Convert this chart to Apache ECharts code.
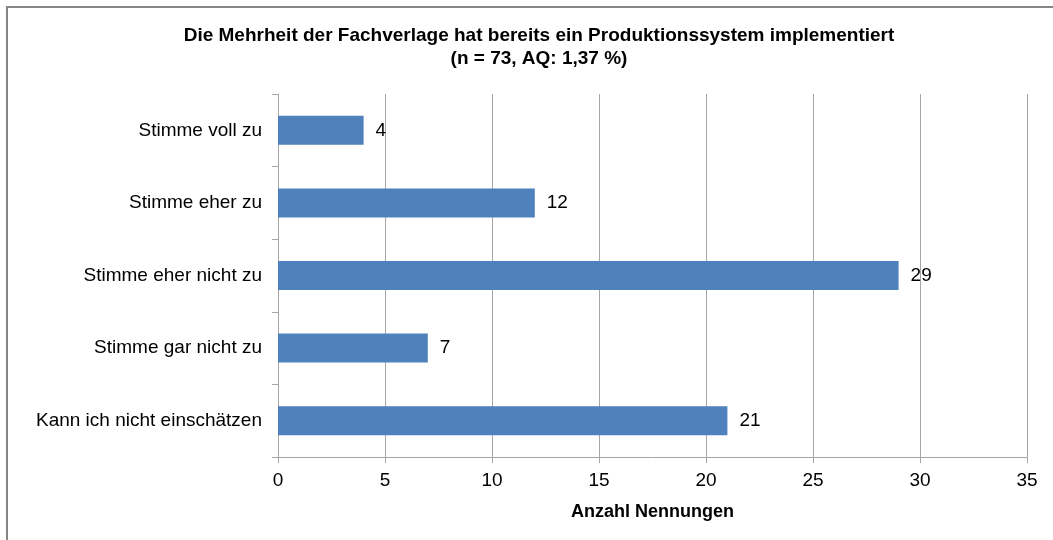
<!DOCTYPE html>
<html>
<head>
<meta charset="utf-8">
<script src="https://cdn.jsdelivr.net/npm/echarts@6/dist/echarts.min.js"></script>
<style>
html,body{margin:0;padding:0;background:#fff;}
#chart{width:1053px;height:540px;}
</style>
</head>
<body>
<div id="chart"></div>
<script>
var titleLines = ['Die Mehrheit der Fachverlage hat bereits ein Produktionssystem implementiert', '(n = 73, AQ: 1,37 %)'];
var categories = ['Stimme voll zu', 'Stimme eher zu', 'Stimme eher nicht zu', 'Stimme gar nicht zu', 'Kann ich nicht einschätzen'];
var counts = [4, 12, 29, 7, 21];
var xTicks = [0, 5, 10, 15, 20, 25, 30, 35];
var xAxisName = 'Anzahl Nennungen';

var chart = echarts.init(document.getElementById('chart'));
var font = 'Liberation Sans, Arial, sans-serif';
chart.setOption({
  animation: false,
  backgroundColor: '#ffffff',
  title: {
    text: titleLines.join('\n'),
    left: 534, top: 19, textAlign: 'center',
    textStyle: {fontFamily: font, fontSize: 19, fontWeight: 'bold', color: '#000', lineHeight: 23}
  },
  graphic: [{
    type: 'rect', shape: {x: 7, y: 7, width: 2000, height: 2000},
    style: {fill: 'none', stroke: '#868686', lineWidth: 2}, silent: true
  }],
  grid: {left: 278, right: 26, top: 94, bottom: 83, containLabel: false},
  xAxis: {
    type: 'value', min: xTicks[0], max: xTicks[xTicks.length - 1], interval: 5,
    name: xAxisName, nameLocation: 'middle', nameGap: 46,
    nameTextStyle: {fontFamily: font, fontSize: 18, fontWeight: 'bold', color: '#000'},
    axisLine: {show: true, lineStyle: {color: '#a6a6a6', width: 1}},
    axisTick: {show: true, length: 6, lineStyle: {color: '#a6a6a6'}},
    axisLabel: {fontFamily: font, fontSize: 19, color: '#000', margin: 14},
    splitLine: {show: true, lineStyle: {color: '#a6a6a6', width: 1}}
  },
  yAxis: {
    type: 'category', data: categories, inverse: true,
    axisLine: {show: true, lineStyle: {color: '#a6a6a6', width: 1}},
    axisTick: {show: true, length: 6, lineStyle: {color: '#a6a6a6'}},
    axisLabel: {fontFamily: font, fontSize: 19, color: '#000', margin: 16}
  },
  series: [{
    type: 'bar', data: counts, barCategoryGap: '60%',
    itemStyle: {color: '#4f81bd'},
    label: {show: true, position: 'right', distance: 12, fontFamily: font, fontSize: 19, color: '#000'}
  }]
});
</script>
</body>
</html>
